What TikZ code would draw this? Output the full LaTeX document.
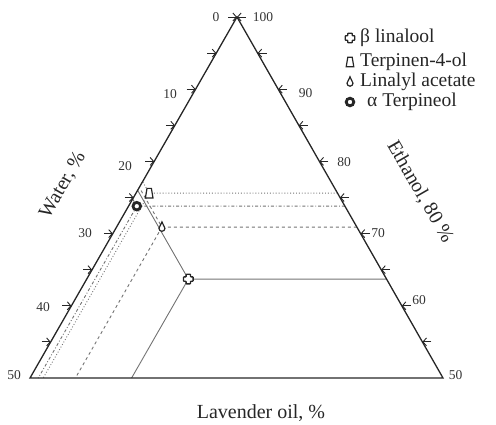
\documentclass[tikz,border=0pt]{standalone}
\usepackage{fontspec}
\setmainfont{Liberation Serif}
\usetikzlibrary{calc}
\usetikzlibrary{arrows.meta}

\tikzset{
  side/.style={line width=1.3pt, draw=black!85},
  tickarrow/.style={line width=0.9pt, draw=black!85, -{Straight Barb[length=3.5pt,width=8pt]}},
  ticklabel/.style={font=\fontsize{13.5}{15}\selectfont, text=black!80, inner sep=0pt},
  axislabel/.style={font=\fontsize{20}{22}\selectfont, text=black!85, inner sep=0pt},
  legendtext/.style={font=\fontsize{19.5}{21}\selectfont, text=black!85, inner sep=0pt, anchor=west},
  guide/.style={line width=0.9pt, draw=black!55},
  plusmark/.pic={\filldraw[line width=1.3pt, draw=black!85, fill=white, rounded corners=0.6pt]
    (-2.2pt,-4.8pt) -- (2.2pt,-4.8pt) -- (2.2pt,-2.2pt) -- (4.8pt,-2.2pt) -- (4.8pt,2.2pt) -- (2.2pt,2.2pt)
    -- (2.2pt,4.8pt) -- (-2.2pt,4.8pt) -- (-2.2pt,2.2pt) -- (-4.8pt,2.2pt) -- (-4.8pt,-2.2pt) -- (-2.2pt,-2.2pt) -- cycle;},
  trapmark/.pic={\filldraw[line width=1.2pt, draw=black!85, fill=white]
    (-3.8pt,-4.8pt) -- (3.8pt,-4.8pt) -- (2.2pt,4.8pt) -- (-2.2pt,4.8pt) -- cycle;},
  dropmark/.pic={\filldraw[line width=1.2pt, draw=black!85, fill=white]
    (0pt,5.2pt) -- (-3pt,-1.2pt) arc (180:360:3pt) -- cycle;},
  ringmark/.pic={\filldraw[line width=2.8pt, draw=black!85, fill=white] (0pt,0pt) circle (3.8pt);}
}

\begin{document}
\begin{tikzpicture}[x=1pt,y=-1pt]
  % Boundary
  \path[use as bounding box] (0,0) rectangle (496,424);
  % Triangle in (water, oil) units
  \begin{scope}[shift={(237,17)},x={(-4.14pt,-7.22pt)},y={(4.12pt,-7.22pt)}]
    \coordinate (top) at (0,0);
    \coordinate (wat) at (50,0);
    \coordinate (oil) at (0,50);
    % Guide lines
    \foreach \w/\o/\sty in {24/12.3/solid, 22.8/1.6/dotted, 23.6/5.5/dashed, 25.2/1.0/dash dot}{
      \draw[guide,\sty] (0,{\w+\o}) -- (\w,\o) -- (\w,0);
      \draw[guide,\sty] (\w,\o) -- ({50-\o},\o);
    }
    \draw[side] (top) -- (wat) -- (oil) -- cycle;
    % Ticks
    \foreach \v in {0,5,...,45}{
      \draw[tickarrow] ([xshift=-9pt]\v,0) -- (\v,0);
      \draw[tickarrow] ([xshift=9pt]0,\v) -- (0,\v);
    }
    % Markers
    \coordinate (lin) at (24,12.3);
    \coordinate (ter4) at (22.8,1.6);
    \coordinate (lac) at (23.6,5.5);
    \coordinate (ater) at (25.2,1.0);
    \pic at (lin) {plusmark};
    \pic at (ter4) {trapmark};
    \pic at (lac) {dropmark};
    \pic at (ater) {ringmark};
  \end{scope}
  % Tick labels
  \foreach \t/\x/\y in {0/216/17, 10/170/94, 20/125/166, 30/85/233, 40/43/307, 50/14/375}
    \node[ticklabel] (w\t) at (\x,\y) {\t};
  \foreach \t/\x/\y in {100/263/17, 90/305.5/93, 80/344/162, 70/378/233, 60/419/300, 50/455.5/375}
    \node[ticklabel] (e\t) at (\x,\y) {\t};
  % Axis titles
  \node[axislabel, rotate=60] (wlab) at (63,185) {Water, \%};
  \node[axislabel, rotate=-60] (elab) at (420,192) {Ethanol, 80 \%};
  \node[axislabel] (olab) at (261,413) {Lavender oil, \%};
  % Legend
  \pic at (350,38) {plusmark};
  \pic at (350,62) {trapmark};
  \pic at (350,82) {dropmark};
  \pic at (350,102) {ringmark};
  \node[legendtext] (lg1) at (360,38) {β linalool};
  \node[legendtext] (lg2) at (360,62) {Terpinen-4-ol};
  \node[legendtext] (lg3) at (360,82) {Linalyl acetate};
  \node[legendtext] (lg4) at (367,102) {α Terpineol};
\end{tikzpicture}
\end{document}
